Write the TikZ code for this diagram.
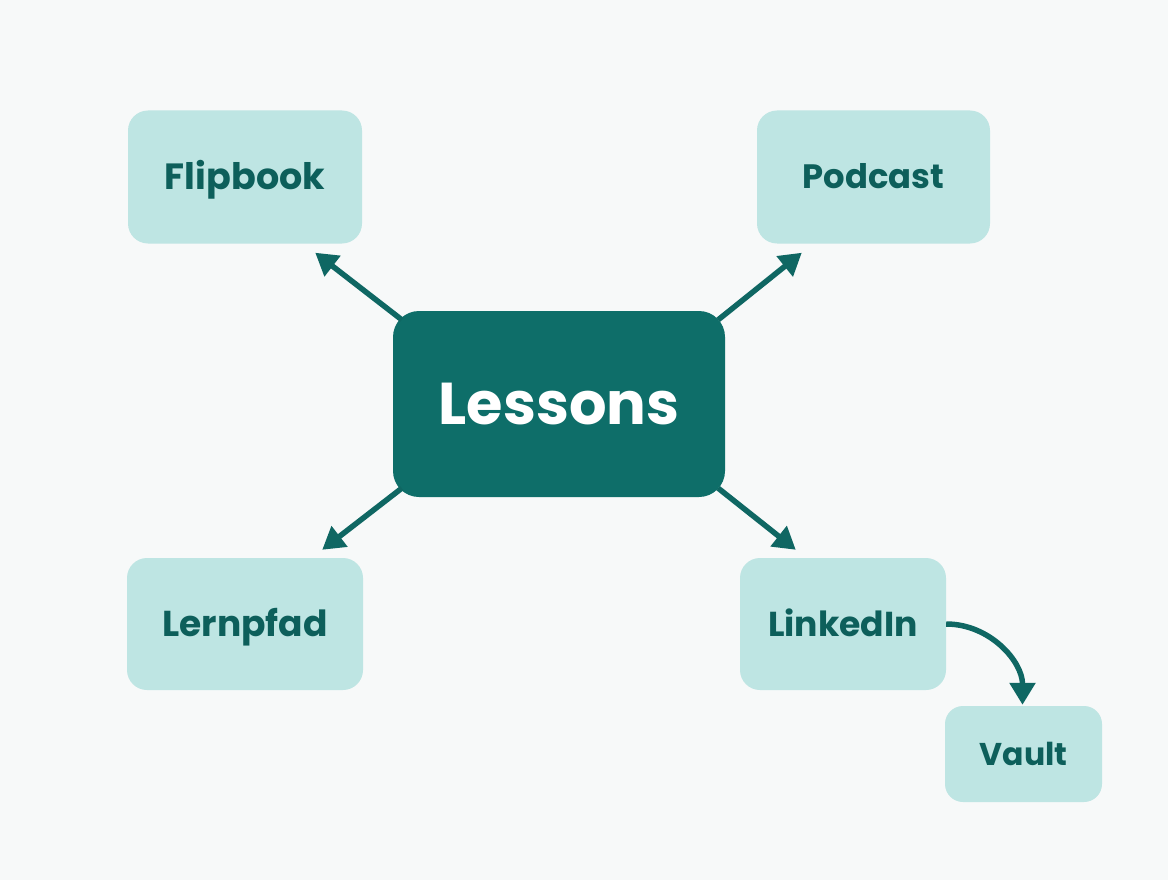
\documentclass[tikz,border=0pt]{standalone}
\usepackage{fontspec}
\setmainfont{Poppins}[BoldFont={Poppins Bold}]
\usetikzlibrary{arrows.meta}
\definecolor{bgc}{HTML}{F7F9F9}
\definecolor{lightbox}{HTML}{BEE5E3}
\definecolor{darkbox}{HTML}{0E6E69}
\definecolor{txt}{HTML}{0D5F5B}
\definecolor{arr}{HTML}{0F6763}
\newcommand{\fsz}[1]{\fontsize{#1}{#1}\selectfont}
\tikzset{
  leaf/.style={fill=lightbox, rounded corners=20pt, text=txt, inner sep=0pt, text depth=0pt},
  hub/.style={fill=darkbox, rounded corners=26pt, text=white, font=\bfseries\fsz{59}, inner sep=0pt, text height=41.3pt, text depth=0pt},
  link/.style={draw=arr, line width=5.5pt, -{Triangle[length=22pt,width=25pt]}}
}
\begin{document}
\begin{tikzpicture}[x=1pt,y=-1pt]
\fill[bgc] (0,0) rectangle (1168,880);
\useasboundingbox (0,0) rectangle (1168,880);
\node[hub, minimum width=332pt, minimum height=186pt] (lessons) at (559,404) {Lessons};
\node[leaf, font=\bfseries\fsz{36.5}, text height=25.5pt, minimum width=234pt, minimum height=133pt] (flip) at (245,177) {Flipbook};
\node[leaf, font=\bfseries\fsz{33.8}, text height=23.7pt, minimum width=233pt, minimum height=133pt] (pod) at (873.5,177) {Podcast};
\node[leaf, font=\bfseries\fsz{36}, text height=25.2pt, minimum width=236pt, minimum height=132pt] (lern) at (245,624) {Lernpfad};
\node[leaf, font=\bfseries\fsz{34.6}, text height=24.2pt, minimum width=206pt, minimum height=132pt] (lnk) at (843,624) {LinkedIn};
\node[leaf, font=\bfseries\fsz{31.5}, text height=22pt, minimum width=157pt, minimum height=96pt, rounded corners=18pt] (vault) at (1023.5,754) {Vault};
\draw[link] ([shift={(9,9)}]lessons.north west) -- ([shift={(-47,9)}]flip.south east);
\draw[link] ([shift={(-7,9)}]lessons.north east) -- ([shift={(45,9)}]pod.south west);
\draw[link] ([shift={(9,-9)}]lessons.south west) -- ([shift={(-41,-8)}]lern.north east);
\draw[link] ([shift={(-7,-9)}]lessons.south east) -- ([shift={(56,-8)}]lnk.north west);
\draw[link] (lnk.east) to[out=0,in=90] ([shift={(-1,-1)}]vault.north);
\end{tikzpicture}
\end{document}
